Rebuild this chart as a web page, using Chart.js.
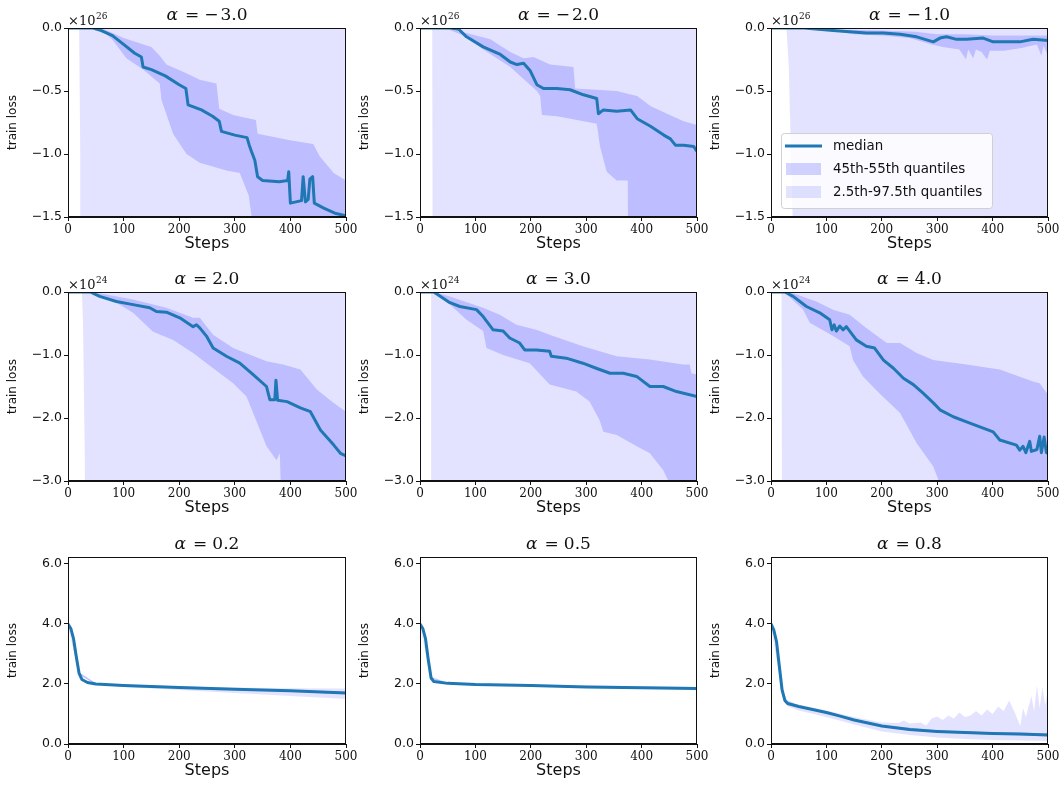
<!DOCTYPE html>
<html>
<head>
<meta charset="utf-8">
<script src="https://cdn.jsdelivr.net/npm/chart.js@4/dist/chart.umd.min.js"></script>
<style>
  body { margin: 0; background: #fff; width: 1060px; height: 789px; overflow: hidden; position: relative; }
  canvas { position: absolute; }
</style>
</head>
<body>
<script>
// ---------- tick values ----------
const stepTicks = [0, 100, 200, 300, 400, 500];
const negTicksA = [0, -0.5, -1.0, -1.5];   // x 1e26
const negTicksB = [0, -1.0, -2.0, -3.0];   // x 1e24
const posTicks = [0, 2.0, 4.0, 6.0];

// ---------- alpha = -3.0  (values x 1e26) ----------
const m3Median = [[0,0],[45,0],[60,-0.02],[80,-0.06],[100,-0.13],[120,-0.2],[132,-0.23],[135,-0.31],[150,-0.33],[175,-0.38],[200,-0.45],[212,-0.48],[216,-0.61],[240,-0.65],[260,-0.7],[272,-0.74],[276,-0.82],[300,-0.85],[322,-0.87],[326,-0.93],[330,-0.98],[336,-1.05],[341,-1.18],[350,-1.21],[380,-1.22],[395,-1.21],[397,-1.14],[400,-1.39],[420,-1.37],[423,-1.18],[427,-1.38],[432,-1.36],[435,-1.2],[440,-1.18],[443,-1.39],[460,-1.43],[470,-1.45],[480,-1.47],[500,-1.49]];
const m3MidHi = [[0,0],[60,0],[100,-0.08],[150,-0.15],[165,-0.22],[177,-0.29],[213,-0.36],[237,-0.41],[267,-0.44],[272,-0.64],[297,-0.69],[338,-0.73],[341,-0.84],[375,-0.87],[399,-0.89],[441,-0.92],[453,-1.02],[478,-1.15],[500,-1.21]];
const m3MidLo = [[0,0],[60,-0.01],[81,-0.1],[105,-0.24],[135,-0.33],[165,-0.44],[168,-0.57],[189,-0.84],[213,-1.0],[237,-1.07],[285,-1.13],[309,-1.15],[325,-1.33],[332,-1.55],[340,-3],[500,-3]];
const m3WideHi = [[0,0],[500,0]];
const m3WideLo = [[0,0],[20,-0.01],[22,-1.0],[23,-5],[500,-5]];

// ---------- alpha = -2.0  (values x 1e26) ----------
const m2Median = [[0,0],[55,0],[70,-0.01],[84,-0.07],[114,-0.15],[145,-0.21],[163,-0.27],[175,-0.29],[187,-0.28],[199,-0.34],[211,-0.45],[223,-0.48],[247,-0.48],[271,-0.49],[295,-0.53],[319,-0.56],[322,-0.68],[331,-0.65],[355,-0.66],[380,-0.65],[392,-0.72],[416,-0.78],[440,-0.85],[452,-0.88],[461,-0.93],[476,-0.93],[494,-0.94],[500,-0.98]];
const m2MidHi = [[0,0],[42,0],[84,-0.04],[127,-0.09],[163,-0.19],[187,-0.24],[205,-0.23],[235,-0.29],[277,-0.31],[280,-0.48],[319,-0.49],[355,-0.5],[392,-0.54],[416,-0.62],[446,-0.68],[476,-0.74],[500,-0.77]];
const m2MidLo = [[0,0],[50,-0.01],[84,-0.07],[114,-0.17],[163,-0.31],[211,-0.5],[217,-0.54],[220,-0.69],[247,-0.7],[295,-0.74],[319,-0.76],[325,-0.94],[337,-1.14],[355,-1.21],[375,-1.21],[377,-3],[500,-3]];
const m2WideHi = [[0,0],[500,0]];
const m2WideLo = [[0,0],[22,-0.01],[24,-5],[500,-5]];

// ---------- alpha = -1.0  (values x 1e26) ----------
const m1Median = [[0,0],[60,0],[112,-0.02],[142,-0.03],[172,-0.04],[203,-0.04],[233,-0.05],[263,-0.07],[293,-0.11],[305,-0.08],[317,-0.07],[335,-0.09],[353,-0.09],[383,-0.08],[401,-0.11],[425,-0.11],[449,-0.11],[473,-0.09],[500,-0.1]];
const m1MidHi = [[0,0],[100,-0.01],[200,-0.02],[260,-0.03],[300,-0.05],[350,-0.05],[400,-0.06],[450,-0.06],[500,-0.06]];
const m1MidLo = [[0,0],[80,-0.01],[120,-0.03],[150,-0.05],[200,-0.06],[250,-0.08],[290,-0.13],[310,-0.15],[340,-0.17],[352,-0.25],[356,-0.17],[365,-0.24],[370,-0.17],[380,-0.19],[390,-0.25],[395,-0.18],[420,-0.18],[450,-0.16],[480,-0.13],[488,-0.22],[492,-0.14],[500,-0.22]];
const m1WideHi = [[0,0],[500,0]];
const m1WideLo = [[0,0],[28,-0.01],[32,-0.3],[36,-1.0],[39,-1.5],[41,-5],[500,-5]];

// ---------- alpha = 2.0  (values x 1e24) ----------
const p2Median = [[0,0],[40,0],[57,-0.07],[87,-0.15],[117,-0.2],[147,-0.25],[159,-0.31],[177,-0.32],[201,-0.41],[225,-0.55],[231,-0.52],[237,-0.57],[249,-0.7],[261,-0.89],[285,-1.02],[309,-1.13],[333,-1.31],[357,-1.5],[363,-1.71],[372,-1.71],[374,-1.4],[377,-1.72],[394,-1.74],[418,-1.84],[436,-1.9],[454,-2.19],[478,-2.43],[490,-2.56],[500,-2.6]];
const p2MidHi = [[0,0],[40,0],[57,-0.02],[117,-0.12],[177,-0.25],[225,-0.41],[237,-0.41],[261,-0.68],[297,-0.89],[357,-1.1],[387,-1.15],[418,-1.23],[448,-1.55],[478,-1.76],[500,-1.9]];
const p2MidLo = [[0,0],[40,-0.01],[87,-0.17],[117,-0.33],[153,-0.63],[189,-0.76],[225,-0.97],[261,-1.21],[297,-1.45],[321,-1.66],[333,-1.92],[357,-2.45],[375,-2.67],[381,-2.56],[384,-3.5],[500,-3.5]];
const p2WideHi = [[0,0],[500,0]];
const p2WideLo = [[0,0],[25,-0.01],[27,-0.5],[30,-2.5],[32,-5],[500,-5]];

// ---------- alpha = 3.0  (values x 1e24) ----------
const p3Median = [[0,0],[25,0],[54,-0.17],[72,-0.23],[102,-0.28],[114,-0.39],[132,-0.6],[150,-0.62],[162,-0.73],[180,-0.81],[189,-0.92],[210,-0.92],[234,-0.94],[237,-1.02],[264,-1.05],[294,-1.13],[318,-1.21],[343,-1.29],[367,-1.29],[391,-1.34],[415,-1.5],[439,-1.5],[463,-1.58],[500,-1.66]];
const p3MidHi = [[0,0],[25,0],[54,-0.07],[114,-0.25],[144,-0.36],[174,-0.52],[210,-0.6],[234,-0.68],[294,-0.86],[355,-1.02],[415,-1.07],[475,-1.15],[487,-1.15],[490,-1.29],[500,-1.31]];
const p3MidLo = [[0,0],[25,-0.01],[54,-0.2],[84,-0.44],[114,-0.62],[120,-0.89],[150,-1.0],[198,-1.13],[234,-1.47],[282,-1.58],[306,-1.74],[324,-2.03],[331,-2.22],[355,-2.27],[391,-2.45],[415,-2.56],[439,-2.83],[451,-3.05],[500,-3.5]];
const p3WideHi = [[0,0],[500,0]];
const p3WideLo = [[0,0],[20,-0.01],[21,-5],[500,-5]];

// ---------- alpha = 4.0  (values x 1e24) ----------
const p4Median = [[0,0],[25,0],[40,-0.07],[64,-0.23],[88,-0.33],[106,-0.44],[110,-0.6],[114,-0.52],[118,-0.62],[124,-0.54],[130,-0.6],[136,-0.55],[154,-0.76],[172,-0.86],[187,-0.89],[203,-1.08],[221,-1.21],[239,-1.37],[257,-1.47],[275,-1.61],[293,-1.76],[305,-1.87],[329,-1.98],[353,-2.06],[383,-2.16],[401,-2.22],[413,-2.35],[443,-2.43],[449,-2.51],[455,-2.45],[460,-2.55],[467,-2.37],[470,-2.53],[480,-2.5],[485,-2.29],[488,-2.55],[493,-2.3],[497,-2.55],[500,-2.56]];
const p4MidHi = [[0,0],[25,0],[40,-0.02],[82,-0.15],[112,-0.28],[142,-0.36],[172,-0.57],[209,-0.81],[233,-0.81],[263,-0.97],[293,-1.08],[353,-1.15],[413,-1.23],[473,-1.42],[485,-1.45],[500,-1.63]];
const p4MidLo = [[0,0],[25,-0.01],[58,-0.28],[70,-0.49],[112,-0.7],[142,-0.86],[148,-1.08],[166,-1.34],[196,-1.61],[233,-1.92],[263,-2.4],[293,-2.77],[305,-3.05],[500,-3.5]];
const p4WideHi = [[0,0],[500,0]];
const p4WideLo = [[0,0],[19,-0.01],[20,-5],[500,-5]];

// ---------- alpha = 0.2 ----------
const s2Median = [[0,4.0],[5,3.85],[10,3.5],[15,2.9],[20,2.35],[25,2.15],[35,2.05],[50,2.0],[100,1.95],[200,1.88],[300,1.82],[400,1.77],[500,1.7]];
const s2MidHi = [[0,4.01],[20,2.38],[50,2.02],[100,1.97],[200,1.9],[300,1.85],[400,1.8],[500,1.74]];
const s2MidLo = [[0,3.99],[20,2.32],[50,1.98],[100,1.93],[200,1.86],[300,1.79],[400,1.74],[500,1.66]];
const s2WideHi = [[0,4.02],[20,2.4],[50,2.03],[100,1.98],[200,1.92],[300,1.88],[400,1.86],[500,1.85]];
const s2WideLo = [[0,3.95],[20,2.3],[50,1.97],[100,1.9],[200,1.8],[300,1.7],[400,1.6],[500,1.5]];

// ---------- alpha = 0.5 ----------
const s5Median = [[0,4.0],[5,3.85],[10,3.5],[15,2.8],[20,2.2],[25,2.08],[50,2.02],[100,1.98],[200,1.95],[300,1.9],[400,1.87],[500,1.85]];
const s5MidHi = [[0,4.01],[20,2.22],[50,2.03],[200,1.96],[500,1.86]];
const s5MidLo = [[0,3.99],[20,2.18],[50,2.01],[200,1.94],[500,1.84]];
const s5WideHi = [[0,4.02],[20,2.25],[50,2.05],[200,1.98],[500,1.9]];
const s5WideLo = [[0,3.95],[20,2.15],[50,1.99],[200,1.92],[500,1.8]];

// ---------- alpha = 0.8 ----------
const s8Median = [[0,4.0],[5,3.8],[10,3.4],[15,2.6],[20,1.8],[25,1.45],[30,1.35],[50,1.25],[75,1.15],[100,1.05],[125,0.93],[150,0.8],[175,0.7],[200,0.6],[250,0.48],[300,0.42],[350,0.38],[400,0.35],[450,0.33],[500,0.3]];
const s8MidHi = [[0,4.01],[25,1.5],[50,1.28],[100,1.08],[150,0.83],[200,0.63],[300,0.46],[400,0.39],[500,0.36]];
const s8MidLo = [[0,3.99],[25,1.4],[50,1.22],[100,1.02],[150,0.77],[200,0.57],[300,0.38],[400,0.31],[500,0.26]];
const s8WideHi = [[0,4.02],[20,1.9],[30,1.4],[50,1.32],[100,1.12],[150,0.9],[200,0.72],[230,0.7],[240,0.78],[250,0.68],[270,0.72],[280,0.62],[290,0.85],[300,0.92],[310,0.8],[320,0.95],[330,0.85],[340,1.05],[350,0.9],[360,0.95],[370,1.1],[380,0.95],[390,1.15],[400,1.0],[410,1.25],[420,1.1],[430,1.45],[440,1.05],[450,0.6],[455,1.2],[460,0.9],[470,1.6],[475,1.1],[480,1.95],[485,1.2],[490,1.9],[495,1.3],[500,1.8]];
const s8WideLo = [[0,3.95],[20,1.7],[30,1.25],[50,1.12],[100,0.9],[150,0.65],[200,0.42],[250,0.3],[300,0.22],[350,0.17],[400,0.13],[450,0.12],[500,0.1]];

// ---------- layout ----------
const colLeft = [68, 420, 771];
const colWidth = [278, 277, 277];
const rowTop = [28, 292, 557];
const rowHeight = [189, 189, 187];

const MEDIAN_COLOR = '#1f77b4';
const MID_FILL = 'rgba(0, 0, 255, 0.17)';
const WIDE_FILL = 'rgba(0, 0, 255, 0.11)';
const INK = '#111';
const SERIF = '"DejaVu Serif"';
const SANS = '"DejaVu Sans"';

const panels = [
  { row: 0, col: 0, alpha: '−3.0', exp: '26', yMin: -1.5, yMax: 0, yTicks: negTicksA, median: m3Median, midHi: m3MidHi, midLo: m3MidLo, wideHi: m3WideHi, wideLo: m3WideLo },
  { row: 0, col: 1, alpha: '−2.0', exp: '26', yMin: -1.5, yMax: 0, yTicks: negTicksA, median: m2Median, midHi: m2MidHi, midLo: m2MidLo, wideHi: m2WideHi, wideLo: m2WideLo },
  { row: 0, col: 2, alpha: '−1.0', exp: '26', yMin: -1.5, yMax: 0, yTicks: negTicksA, median: m1Median, midHi: m1MidHi, midLo: m1MidLo, wideHi: m1WideHi, wideLo: m1WideLo, legend: true },
  { row: 1, col: 0, alpha: '2.0', exp: '24', yMin: -3, yMax: 0, yTicks: negTicksB, median: p2Median, midHi: p2MidHi, midLo: p2MidLo, wideHi: p2WideHi, wideLo: p2WideLo },
  { row: 1, col: 1, alpha: '3.0', exp: '24', yMin: -3, yMax: 0, yTicks: negTicksB, median: p3Median, midHi: p3MidHi, midLo: p3MidLo, wideHi: p3WideHi, wideLo: p3WideLo },
  { row: 1, col: 2, alpha: '4.0', exp: '24', yMin: -3, yMax: 0, yTicks: negTicksB, median: p4Median, midHi: p4MidHi, midLo: p4MidLo, wideHi: p4WideHi, wideLo: p4WideLo },
  { row: 2, col: 0, alpha: '0.2', exp: null, yMin: 0, yMax: 6.23, yTicks: posTicks, median: s2Median, midHi: s2MidHi, midLo: s2MidLo, wideHi: s2WideHi, wideLo: s2WideLo },
  { row: 2, col: 1, alpha: '0.5', exp: null, yMin: 0, yMax: 6.23, yTicks: posTicks, median: s5Median, midHi: s5MidHi, midLo: s5MidLo, wideHi: s5WideHi, wideLo: s5WideLo },
  { row: 2, col: 2, alpha: '0.8', exp: null, yMin: 0, yMax: 6.23, yTicks: posTicks, median: s8Median, midHi: s8MidHi, midLo: s8MidLo, wideHi: s8WideHi, wideLo: s8WideLo }
];

const toXY = arr => arr.map(p => ({ x: p[0], y: p[1] }));
const fmtTick = v => (v < 0 ? '−' : '') + Math.abs(v).toFixed(1);

// frame, math-style title, offset text and legend
const decorPlugin = {
  id: 'decor',
  afterDraw(chart, args, opts) {
    const ctx = chart.ctx;
    const a = chart.chartArea;
    ctx.save();

    ctx.strokeStyle = INK;
    ctx.lineWidth = 1;
    ctx.strokeRect(Math.round(a.left) + 0.5, Math.round(a.top) + 0.5,
                   Math.round(a.right - a.left) - 1, Math.round(a.bottom - a.top) - 1);

    // title  "α = value" with math-like spacing
    ctx.fillStyle = INK;
    ctx.textBaseline = 'alphabetic';
    const fItal = 'italic 17px ' + SERIF;
    const fUp = '17px ' + SERIF;
    const neg = opts.alpha.startsWith('−');
    const num = neg ? opts.alpha.slice(1) : opts.alpha;
    ctx.font = fItal; const wA = ctx.measureText('α').width;
    ctx.font = fUp;
    const wEq = ctx.measureText('=').width;
    const wMinus = neg ? ctx.measureText('−').width + 2 : 0;
    const wNum = ctx.measureText(num).width;
    const gap1 = 7, gap2 = 5;
    const total = wA + gap1 + wEq + gap2 + wMinus + wNum;
    let tx = (a.left + a.right) / 2 - total / 2;
    const ty = a.top - 8;
    ctx.font = fItal; ctx.fillText('α', tx, ty); tx += wA + gap1;
    ctx.font = fUp; ctx.fillText('=', tx, ty); tx += wEq + gap2;
    if (neg) { ctx.fillText('−', tx, ty); tx += wMinus; }
    ctx.fillText(num, tx, ty);

    // offset text
    if (opts.exp) {
      ctx.font = '13px ' + SERIF;
      ctx.fillText('×10', a.left, a.top - 3);
      const wx = ctx.measureText('×10').width;
      ctx.font = '9px ' + SERIF;
      ctx.fillText(opts.exp, a.left + wx + 0.5, a.top - 9);
    }

    if (opts.legend) {
      const bx = a.left + 10, bw = 211, bh = 75, by = a.bottom - 9 - bh;
      ctx.beginPath();
      ctx.roundRect(bx + 0.5, by + 0.5, bw, bh, 3);
      ctx.fillStyle = 'rgba(255,255,255,0.8)';
      ctx.fill();
      ctx.strokeStyle = 'rgba(204,204,204,0.9)';
      ctx.lineWidth = 1;
      ctx.stroke();

      const ds = chart.data.datasets;
      ctx.font = '13.4px ' + SANS;
      ctx.textBaseline = 'middle';
      ctx.strokeStyle = ds[0].borderColor;
      ctx.lineWidth = 3;
      ctx.beginPath();
      ctx.moveTo(bx + 4, by + 13); ctx.lineTo(bx + 41, by + 13);
      ctx.stroke();
      ctx.fillStyle = INK;
      ctx.fillText(ds[0].label, bx + 52, by + 14);
      ctx.fillStyle = ds[1].backgroundColor;
      ctx.fillRect(bx + 5, by + 30, 35, 12);
      ctx.fillStyle = INK;
      ctx.fillText(ds[1].label, bx + 52, by + 37);
      ctx.fillStyle = ds[3].backgroundColor;
      ctx.fillRect(bx + 5, by + 53, 35, 12);
      ctx.fillStyle = INK;
      ctx.fillText(ds[3].label, bx + 52, by + 60);
    }
    ctx.restore();
  }
};

panels.forEach(p => {
  const w = colWidth[p.col], h = rowHeight[p.row];
  const padRight = 18, axisW = 68, topPad = 28, axisH = 44;
  const cv = document.createElement('canvas');
  cv.width = axisW + w + padRight;
  cv.height = topPad + h + axisH;
  cv.style.left = (colLeft[p.col] - axisW) + 'px';
  cv.style.top = (rowTop[p.row] - topPad) + 'px';
  document.body.appendChild(cv);

  new Chart(cv, {
    type: 'line',
    data: {
      datasets: [
        { label: 'median', data: toXY(p.median), borderColor: MEDIAN_COLOR, borderWidth: 3, fill: false, pointRadius: 0, borderJoinStyle: 'round' },
        { label: '45th-55th quantiles', data: toXY(p.midHi), borderWidth: 0, borderColor: 'rgba(0,0,0,0)', backgroundColor: MID_FILL, fill: '+1', pointRadius: 0 },
        { label: 'mid lo', data: toXY(p.midLo), borderWidth: 0, borderColor: 'rgba(0,0,0,0)', fill: false, pointRadius: 0 },
        { label: '2.5th-97.5th quantiles', data: toXY(p.wideHi), borderWidth: 0, borderColor: 'rgba(0,0,0,0)', backgroundColor: WIDE_FILL, fill: '+1', pointRadius: 0 },
        { label: 'wide lo', data: toXY(p.wideLo), borderWidth: 0, borderColor: 'rgba(0,0,0,0)', fill: false, pointRadius: 0 }
      ]
    },
    options: {
      responsive: false,
      animation: false,
      events: [],
      layout: { padding: { top: topPad, right: padRight, bottom: 0, left: 0 } },
      plugins: {
        legend: { display: false },
        tooltip: { enabled: false },
        decor: { alpha: p.alpha, exp: p.exp, legend: !!p.legend }
      },
      scales: {
        x: {
          type: 'linear', min: 0, max: 500,
          afterBuildTicks: s => { s.ticks = stepTicks.map(v => ({ value: v })); },
          afterFit: s => { s.height = axisH; },
          ticks: { font: { family: SERIF, size: 12 }, color: INK, padding: 2, maxRotation: 0, autoSkip: false },
          grid: { drawOnChartArea: false, drawTicks: true, tickLength: 4, tickColor: INK },
          border: { color: INK },
          title: { display: true, text: 'Steps', color: INK, font: { family: SANS, size: 16 }, padding: { top: 0, bottom: 8 } }
        },
        y: {
          type: 'linear', min: p.yMin, max: p.yMax,
          afterBuildTicks: s => { s.ticks = p.yTicks.map(v => ({ value: v })); },
          afterFit: s => { s.width = axisW; },
          ticks: { font: { family: SANS, size: 12.5 }, color: INK, padding: 2, callback: v => fmtTick(v) },
          grid: { drawOnChartArea: false, drawTicks: true, tickLength: 4, tickColor: INK },
          border: { color: INK },
          title: { display: true, text: 'train loss', color: INK, font: { family: SANS, size: 12 }, padding: { top: 6, bottom: 0 } }
        }
      }
    },
    plugins: [decorPlugin]
  });
});
</script>
</body>
</html>
